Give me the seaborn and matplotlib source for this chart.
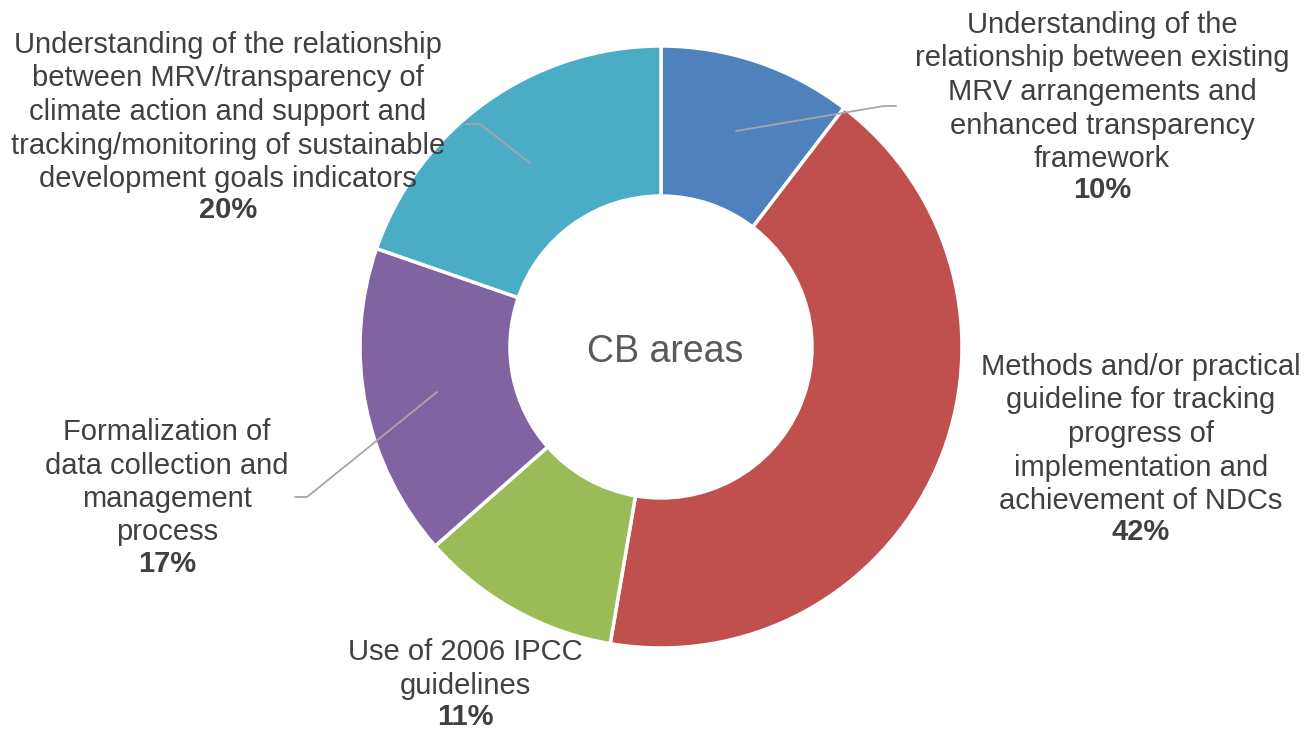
import matplotlib
matplotlib.use("Agg")
import matplotlib.pyplot as plt
import seaborn as sns

# data (shares; labels show the rounded value)
categories = [
    "Understanding of the\nrelationship between existing\nMRV arrangements and\nenhanced transparency\nframework",
    "Methods and/or practical\nguideline for tracking\nprogress of\nimplementation and\nachievement of NDCs",
    "Use of 2006 IPCC\nguidelines",
    "Formalization of\ndata collection and\nmanagement\nprocess",
    "Understanding of the relationship\nbetween MRV/transparency of\nclimate action and support and\ntracking/monitoring of sustainable\ndevelopment goals indicators",
]
shares = [10.4, 42.3, 10.8, 16.8, 19.7]
colors = ["#4F81BD", "#C0504D", "#9BBB59", "#8064A2", "#4BACC6"]

sns.set_theme(style="white")
plt.rcParams["font.family"] = ["Liberation Sans", "DejaVu Sans"]

W, H = 1306, 733
fig = plt.figure(figsize=(W / 100, H / 100), dpi=100)
ax = fig.add_axes([0, 0, 1, 1])

def Y(py):
    return H - py

cx, cy, R = 661, 347, 301
ax.pie(shares, colors=colors, startangle=90, counterclock=False,
       center=(cx, Y(cy)), radius=R, frame=True,
       wedgeprops=dict(width=150, edgecolor="white", linewidth=2.5))
ax.set_xlim(0, W)
ax.set_ylim(0, H)
ax.set_aspect("equal")
ax.axis("off")

ax.text(cx + 4, Y(352), "CB areas", ha="center", va="center",
        fontsize=27, color="#595959")

# label centre x and first line y (pixels)
label_pos = [(1102, 25), (1141, 367), (465, 652), (167, 432), (228, 45)]
step = 33.5
txt_col = "#404040"
for lab, v, (lx, ly) in zip(categories, shares, label_pos):
    lines = lab.split("\n")
    for i, ln in enumerate(lines):
        ax.text(lx, Y(ly + i * step), ln, ha="center", va="center",
                fontsize=21, color=txt_col)
    ax.text(lx, Y(ly + len(lines) * step - 2), f"{round(v)}%", ha="center",
            va="center", fontsize=21, color=txt_col, fontweight="bold")

# leader lines
leaders = [
    [(736, 131), (884, 106), (896, 106)],
    [(530, 163), (480, 124), (466, 124)],
    [(437, 392), (307, 497), (295, 497)],
]
for pts in leaders:
    ax.plot([p[0] for p in pts], [Y(p[1]) for p in pts],
            color="#A6A6A6", lw=1.3)

fig.savefig("out.png", dpi=100)
